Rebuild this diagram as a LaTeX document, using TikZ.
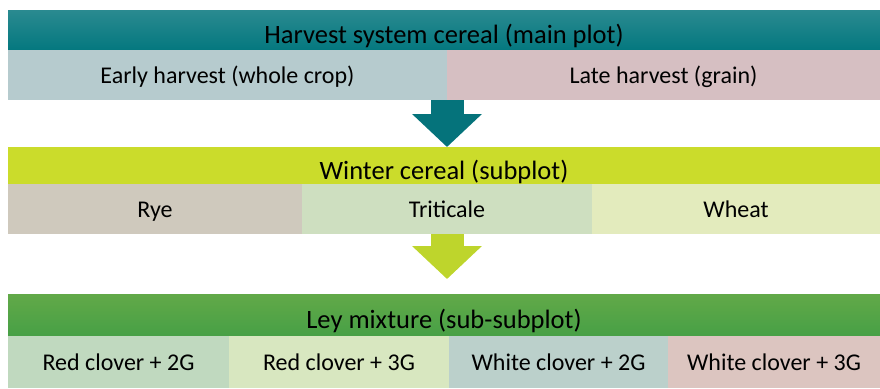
\documentclass[tikz,border=0pt]{standalone}
\usepackage{fontspec}
\setmainfont{Carlito}
\usetikzlibrary{arrows.meta}

\definecolor{tealtop}{HTML}{2A8A90}
\definecolor{tealbot}{HTML}{04787F}
\definecolor{tealarrow}{HTML}{05737B}
\definecolor{earlyc}{HTML}{B6CBCE}
\definecolor{latec}{HTML}{D6BFC2}
\definecolor{winterc}{HTML}{CBDC2B}
\definecolor{limearrow}{HTML}{BED52C}
\definecolor{ryec}{HTML}{CFC9BD}
\definecolor{triticalec}{HTML}{CEDFC0}
\definecolor{wheatc}{HTML}{E3EBBD}
\definecolor{leytop}{HTML}{62A948}
\definecolor{leybot}{HTML}{47A046}
\definecolor{rctwoc}{HTML}{C0D9BF}
\definecolor{rcthreec}{HTML}{D8E7C0}
\definecolor{wctwoc}{HTML}{BBD0CB}
\definecolor{wcthreec}{HTML}{DCC5C0}

\begin{document}
\begin{tikzpicture}[x=1pt,y=-1pt,>={Triangle[width=68pt,length=33pt]}]
  \tikzstyle{head}=[anchor=north west,inner sep=0pt,outer sep=0pt,minimum width=872pt,
    font=\fontsize{26.5}{30}\selectfont,text height=27pt,text depth=0pt]
  \tikzstyle{cell}=[anchor=north west,inner sep=0pt,outer sep=0pt,minimum height=50pt,
    font=\fontsize{24}{28}\selectfont,text height=16pt,text depth=0pt]
  \tikzstyle{flow}=[->,line width=33pt]
  \useasboundingbox (0,0) rectangle (880,388);

  % main plot
  \node[head,minimum height=40pt,top color=tealtop,bottom color=tealbot] (harvest) at (8,10) {Harvest system cereal (main plot)};
  \node[cell,fill=earlyc,minimum width=439pt] (early) at (8,50) {Early harvest (whole crop)};
  \node[cell,fill=latec,minimum width=433pt]  (late)  at (447,50) {Late harvest (grain)};

  % subplot
  \node[head,minimum height=37pt,fill=winterc] (winter) at (8,147) {Winter cereal (subplot)};
  \node[cell,fill=ryec,minimum width=294pt]       (rye)       at (8,184)   {Rye};
  \node[cell,fill=triticalec,minimum width=290pt] (triticale) at (302,184) {Triticale};
  \node[cell,fill=wheatc,minimum width=288pt]     (wheat)     at (592,184) {Wheat};

  % sub-subplot
  \node[head,minimum height=42pt,top color=leytop,bottom color=leybot] (ley) at (8,294) {Ley mixture (sub-subplot)};
  \node[cell,fill=rctwoc,minimum width=221pt,minimum height=52pt]   (rc2) at (8,336)   {Red clover + 2G};
  \node[cell,fill=rcthreec,minimum width=220pt,minimum height=52pt] (rc3) at (229,336) {Red clover + 3G};
  \node[cell,fill=wctwoc,minimum width=219pt,minimum height=52pt]   (wc2) at (449,336) {White clover + 2G};
  \node[cell,fill=wcthreec,minimum width=212pt,minimum height=52pt] (wc3) at (668,336) {White clover + 3G};

  \draw[flow,draw=tealarrow] (early.south east) -- (early.south east |- winter.north);
  \draw[flow,draw=limearrow,shorten >=15pt] (triticale.south) -- (triticale.south |- ley.north);
\end{tikzpicture}
\end{document}
